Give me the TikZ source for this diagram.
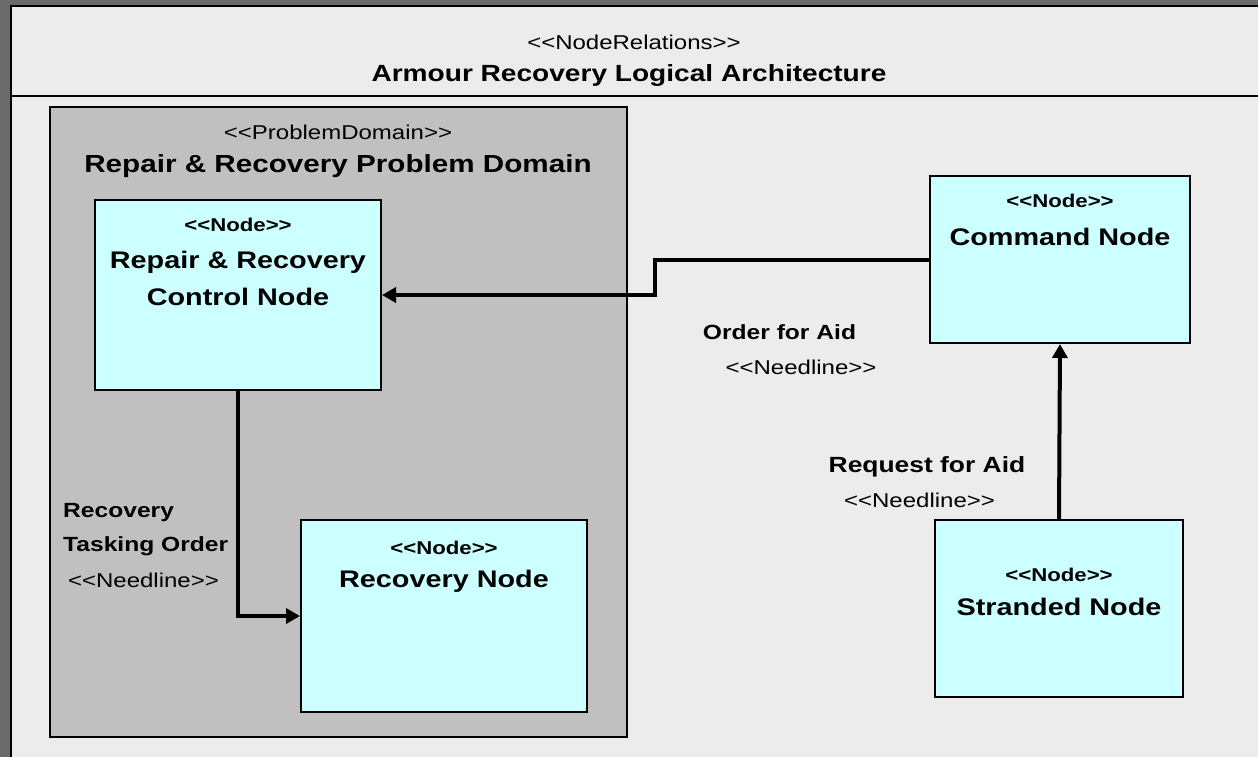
\documentclass[tikz,border=0pt]{standalone}
\usepackage{fontspec}
\newfontfamily\archfont{Liberation Sans}[FakeStretch=1.2]
\usetikzlibrary{arrows.meta}
\definecolor{outergray}{HTML}{6B6B6B}
\definecolor{framegray}{HTML}{ECECEC}
\definecolor{domaingray}{HTML}{C0C0C0}
\definecolor{nodecyan}{HTML}{CCFFFF}
\tikzset{
	nodebox/.style={draw=black, line width=2pt, fill=nodecyan, inner sep=0pt},
	stereo/.style={font=\archfont\fontsize{20}{24}\selectfont, inner sep=0pt},
	nodestereo/.style={font=\archfont\bfseries\fontsize{18.5}{22}\selectfont, inner sep=0pt},
	nodename/.style={font=\archfont\bfseries\fontsize{24}{37}\selectfont, align=center, inner sep=0pt},
	linklabel/.style={font=\archfont\bfseries\fontsize{20.5}{34}\selectfont, align=left, inner sep=0pt},
	needline/.style={line width=4pt, -{Triangle[length=14pt,width=15pt]}}
}
\begin{document}
\begin{tikzpicture}[x=1pt, y=-1pt]
	\useasboundingbox (0,0) rectangle (1258,756);
	% background and frame
	\fill[outergray] (-5,-5) rectangle (1270,770);
	\fill[framegray] (11,6) rectangle (1270,770);
	\draw[line width=2pt] (11,770) -- (11,6) -- (1270,6);
	\draw[line width=2pt] (11,95.5) -- (1270,95.5);
	\node[stereo] (relstereo) at (634,42) {<<NodeRelations>>};
	\node[nodename, font=\archfont\bfseries\fontsize{23.4}{30}\selectfont] (reltitle) at (629,75) {Armour Recovery Logical Architecture};
	% problem domain
	\draw[line width=2pt, fill=domaingray] (50,107) rectangle (627,737);
	\node[stereo] (pdstereo) at (338,132) {<<ProblemDomain>>};
	\node[nodename, font=\archfont\bfseries\fontsize{24.7}{30}\selectfont] (pdtitle) at (338,166) {Repair \& Recovery Problem Domain};
	% nodes
	\node[nodebox, minimum width=286pt, minimum height=190pt] (ctrl) at (238,295) {};
	\node[nodestereo] (ctrlstereo) at (238,225) {<<Node>>};
	\node[nodename] (ctrlname) at (238,278) {Repair \& Recovery\\Control Node};
	\node[nodebox, minimum width=286pt, minimum height=192pt] (rec) at (444,616) {};
	\node[nodestereo] (recstereo) at (444,548) {<<Node>>};
	\node[nodename] (recname) at (444,581) {Recovery Node};
	\node[nodebox, minimum width=260pt, minimum height=167pt] (cmd) at (1060,259.5) {};
	\node[nodestereo] (cmdstereo) at (1060,201) {<<Node>>};
	\node[nodename] (cmdname) at (1060,237) {Command Node};
	\node[nodebox, minimum width=248pt, minimum height=177pt] (strand) at (1059,608.5) {};
	\node[nodestereo] (strandstereo) at (1059,575) {<<Node>>};
	\node[nodename] (strandname) at (1059,607) {Stranded Node};
	% needlines
	\coordinate (orderbend) at (655,277);
	\draw[needline] (cmd.west) -| (orderbend) |- (ctrl.east);
	\draw[needline] (ctrl.south) |- (rec.west);
	\draw[needline] (strand.north) -- (cmd.south);
	\node[linklabel] (orderlbl) at (779.5,332) {Order for Aid};
	\node[stereo] (orderneed) at (801,367) {<<Needline>>};
	\node[linklabel, font=\archfont\bfseries\fontsize{22}{34}\selectfont] (requestlbl) at (927,467) {Request for Aid};
	\node[stereo] (requestneed) at (919.5,500) {<<Needline>>};
	\node[linklabel, anchor=west] (tasklbl) at (63,530) {Recovery\\Tasking Order};
	\node[stereo] (taskneed) at (143.5,580) {<<Needline>>};
\end{tikzpicture}
\end{document}
